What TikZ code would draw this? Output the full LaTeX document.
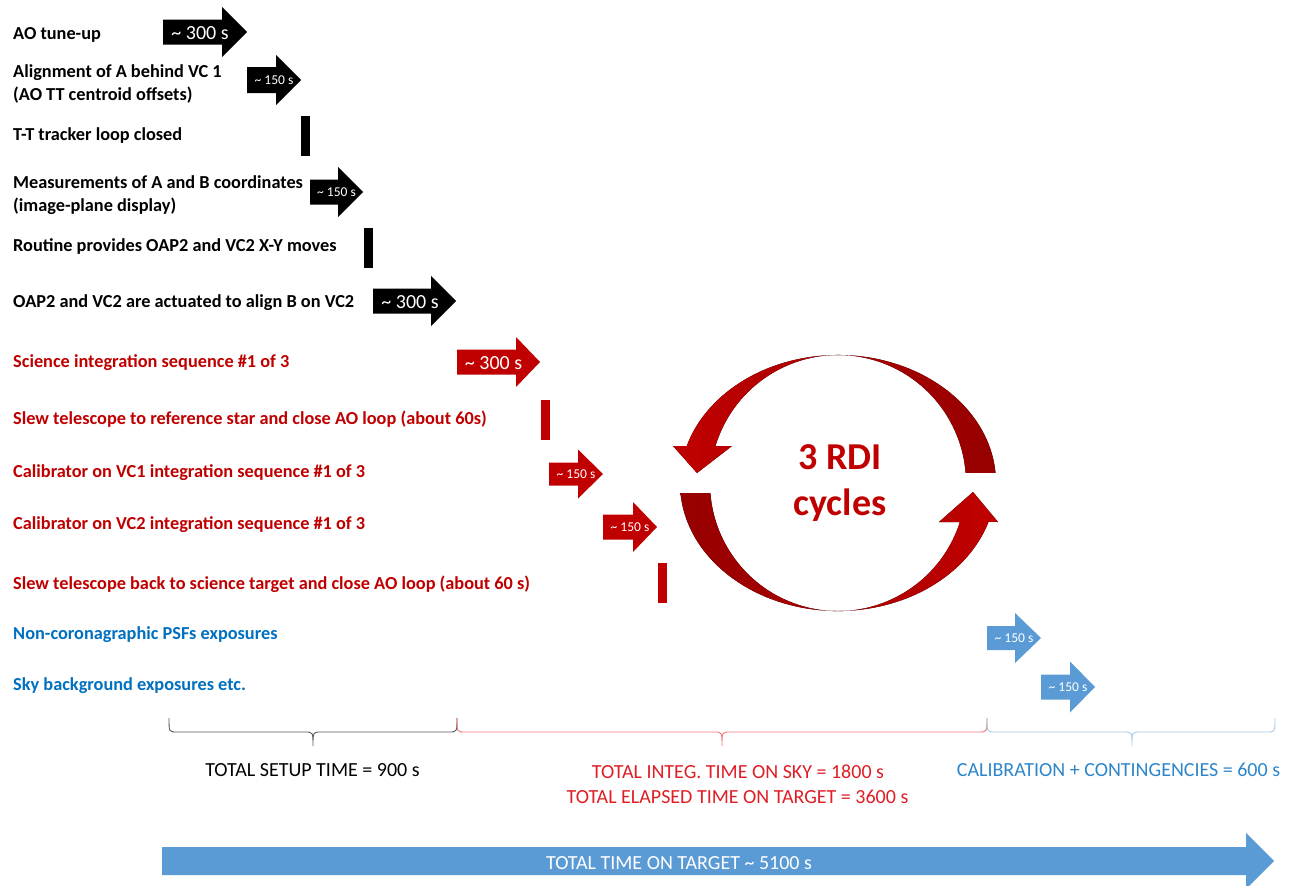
\documentclass[tikz,border=0pt]{standalone}
\usepackage{fontspec}
\setmainfont{Carlito}
\definecolor{dred}{HTML}{C00000}
\definecolor{dredd}{HTML}{960000}
\definecolor{lblue}{HTML}{5B9BD5}
\definecolor{tblue}{HTML}{0070C0}
\definecolor{bred}{HTML}{E01E26}
\definecolor{cblue}{HTML}{2E86CA}
\definecolor{bgray}{HTML}{595959}
\definecolor{bpink}{HTML}{EE7777}
\definecolor{bsky}{HTML}{A9CBEA}
% #1 colour, #2 x0, #3 head x, #4 tip x, #5 centre y, #6 body half, #7 head half
\newcommand{\tlarrow}[7]{%
  \fill[#1] (#2,#5-#6) -- (#3,#5-#6) -- (#3,#5-#7) -- (#4,#5) -- (#3,#5+#7)
    -- (#3,#5+#6) -- (#2,#5+#6) -- cycle;}
% #1 colour, #2 x0, #3 mid x, #4 x1
\newcommand{\tlbrace}[4]{%
  \draw[#1, line width=0.9pt] (#2,718) .. controls (#2,732) .. (#2+8,732) -- (#3-8,732)
    .. controls (#3,732) .. (#3,746) .. controls (#3,732) .. (#3+8,732) -- (#4-8,732)
    .. controls (#4,732) .. (#4,718);}
\tikzset{
  lab/.style={anchor=base west, inner sep=0pt, align=left,
    font=\fontsize{18.3}{23}\selectfont\bfseries},
  alab/.style={text=white, inner sep=0pt, anchor=base,
    font=\fontsize{20}{24}\selectfont},
  slab/.style={text=white, inner sep=0pt, anchor=base,
    font=\fontsize{13.5}{16}\selectfont},
  tot/.style={inner sep=0pt, anchor=base, font=\fontsize{20}{24}\selectfont},
  rdi/.style={inner sep=0pt, anchor=base, text=dred,
    font=\fontsize{38}{46}\selectfont\bfseries},
}
\begin{document}
\begin{tikzpicture}[x=1pt, y=-1pt]
\useasboundingbox (0,0) rectangle (1291,886);
\fill[white] (0,0) rectangle (1291,886);

% ---- step labels (multi-line labels are placed by their last baseline) ----
\node[lab] (t1) at (13,39) {AO tune-up};
\node[lab] (t2) at (13,100) {Alignment of A behind VC 1\\(AO TT centroid offsets)};
\node[lab] (t3) at (13,140) {T-T tracker loop closed};
\node[lab] (t4) at (13,211) {Measurements of A and B coordinates\\(image-plane display)};
\node[lab] (t5) at (13,251) {Routine provides OAP2 and VC2 X-Y moves};
\node[lab] (t6) at (13,307) {OAP2 and VC2 are actuated to align B on VC2};
\node[lab, text=dred] (t7) at (13,367) {Science integration sequence \#1 of 3};
\node[lab, text=dred] (t8) at (13,424) {Slew telescope to reference star and close AO loop (about 60s)};
\node[lab, text=dred] (t9) at (13,477) {Calibrator on VC1 integration sequence \#1 of 3};
\node[lab, text=dred] (t10) at (13,529) {Calibrator on VC2 integration sequence \#1 of 3};
\node[lab, text=dred] (t11) at (13,589) {Slew telescope back to science target and close AO loop (about 60 s)};
\node[lab, text=tblue] (t12) at (13,639) {Non-coronagraphic PSFs exposures};
\node[lab, text=tblue] (t13) at (13,690) {Sky background exposures etc.};

% ---- timing arrows and bars ----
\tlarrow{black}{163}{222}{247}{32}{12.5}{25}
\node[alab] (a1) at (200,39) {\textasciitilde{} 300 s};
\tlarrow{black}{247}{276}{301}{80}{13}{25}
\node[slab] (a2) at (274,84) {\textasciitilde{} 150 s};
\fill[black] (301,116) rectangle (310,156);
\tlarrow{black}{310}{338}{363}{192}{12.5}{25}
\node[slab] (a4) at (336.5,196) {\textasciitilde{} 150 s};
\fill[black] (364,228) rectangle (373,268);
\tlarrow{black}{373}{431}{456}{301}{12.5}{25}
\node[alab] (a6) at (410,308) {\textasciitilde{} 300 s};

\tlarrow{dred}{457}{516}{540}{362}{12.5}{25}
\node[alab] (a7) at (493.5,369) {\textasciitilde{} 300 s};
\fill[dred] (541,400) rectangle (550,440);
\tlarrow{dred}{549}{578}{603}{474}{11.5}{24.5}
\node[slab] (a9) at (576,478) {\textasciitilde{} 150 s};
\tlarrow{dred}{603}{633}{657}{527}{12.5}{25}
\node[slab] (a10) at (630,531) {\textasciitilde{} 150 s};
\fill[dred] (658,563) rectangle (667,603);

\tlarrow{lblue}{987}{1015}{1041}{638}{12}{25}
\node[slab] (a12) at (1014,642) {\textasciitilde{} 150 s};
\tlarrow{lblue}{1041}{1070}{1095}{687}{12.5}{25.5}
\node[slab] (a13) at (1068,691) {\textasciitilde{} 150 s};

% ---- RDI cycle arrows ----
\fill[left color=dred, right color=dredd]
  (838,483) ++(-4.5:158 and 128) arc[start angle=-4.5, end angle=-163.2, x radius=158, y radius=128]
  -- (673,446) -- (697,473) -- (732,446) -- (715.5,446)
  arc[start angle=-163.2, end angle=-4.5, radius=128] -- cycle;
\fill[left color=dredd, right color=dred]
  (838,483) ++(175.5:158 and 128) arc[start angle=175.5, end angle=17.7, x radius=158, y radius=128]
  -- (998,522) -- (973,492) -- (939,522) -- (959.9,522)
  arc[start angle=17.7, end angle=175.5, radius=128] -- cycle;
\node[rdi] (r1) at (840,469) {3 RDI};
\node[rdi] (r2) at (840,515) {cycles};

% ---- braces and totals ----
\tlbrace{bgray}{169}{313}{457}
\tlbrace{bpink}{457}{722}{987}
\tlbrace{bsky}{987}{1132}{1275}
\node[tot] (s1) at (312.5,776) {TOTAL SETUP TIME = 900 s};
\node[tot, text=bred] (s2) at (738,778) {TOTAL INTEG. TIME ON SKY = 1800 s};
\node[tot, text=bred] (s3) at (737.5,803) {TOTAL ELAPSED TIME ON TARGET = 3600 s};
\node[tot, text=cblue] (s4) at (1118.5,776) {CALIBRATION + CONTINGENCIES = 600 s};

% ---- total arrow ----
\tlarrow{lblue}{162}{1246}{1274}{861}{14}{28}
\node[tot, text=white] (tt) at (679,869) {TOTAL TIME ON TARGET \textasciitilde{} 5100 s};
\end{tikzpicture}
\end{document}
